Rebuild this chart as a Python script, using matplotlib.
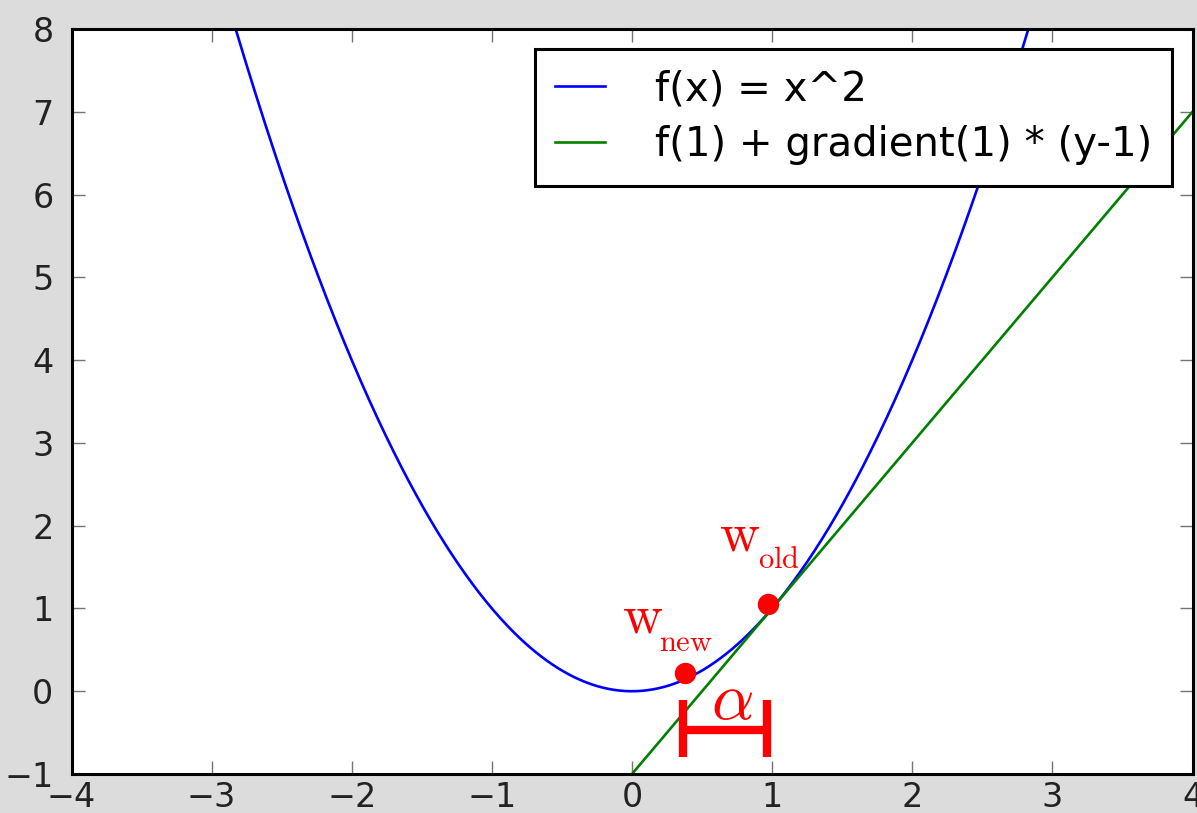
import numpy as np
import matplotlib
matplotlib.use("Agg")
import matplotlib.pyplot as plt

plt.rcParams.update({
    "font.family": "DejaVu Sans",
    "mathtext.fontset": "cm",
})

# curve f(x) = x^2 and its tangent at x = 1
x_lo, x_hi = -4.0, 4.0
x = np.linspace(x_lo, x_hi, 801)
f = x ** 2
tangent_at = 1.0
tangent = tangent_at ** 2 + 2 * tangent_at * (x - tangent_at)

# gradient step: old and new weights
w_old = (0.97, 1.05)
w_new = (0.38, 0.22)
step_x = [0.364, 0.964]      # extent of the alpha bracket
step_y = [-0.1, -0.8]        # vertical extent of bracket ends
step_mid = -0.47

xticks = [-4, -3, -2, -1, 0, 1, 2, 3, 4]
yticks = [-1, 0, 1, 2, 3, 4, 5, 6, 7, 8]

W, H = 1197, 813
fig = plt.figure(figsize=(W / 100, H / 100), dpi=100, facecolor="#dcdcdc")
ax = fig.add_axes([71.5 / W, (H - 774) / H, (1192.5 - 71.5) / W, (774 - 29) / H])

ax.plot(x, f, color="b", lw=1.9, label="f(x) = x^2")
ax.plot(x, tangent, color="g", lw=1.9, label="f(1) + gradient(1) * (y-1)")

ax.plot(*w_old, "o", color="r", ms=14.4, mec="r", zorder=5)
ax.plot(*w_new, "o", color="r", ms=14.4, mec="r", zorder=5)

# alpha bracket
ax.plot(step_x, [step_mid, step_mid], color="r", lw=6, solid_capstyle="butt")
for sx in step_x:
    ax.plot([sx, sx], step_y, color="r", lw=6, solid_capstyle="butt")


def weight_label(xw, yw, sub, xs, ys):
    ax.text(xw, yw, r"$\mathrm{w}$", color="r", fontsize=40,
            ha="left", va="baseline")
    ax.text(xs, ys, r"$\mathrm{%s}$" % sub, color="r", fontsize=22,
            ha="left", va="baseline")


weight_label(0.62, 1.70, "old", 0.90, 1.49)
weight_label(-0.07, 0.71, "new", 0.19, 0.49)
ax.text(0.714, -0.33, r"$\alpha$", color="r", fontsize=48,
        ha="center", va="baseline")

ax.set_xlim(x_lo, x_hi)
ax.set_ylim(-1, 8)
ax.set_xticks(xticks)
ax.set_yticks(yticks)
ax.tick_params(direction="in", length=9.4, width=1.0, color="0.45",
               labelsize=24, labelcolor="#222222", top=True, right=True)
ax.tick_params(axis="x", pad=5)
ax.tick_params(axis="y", pad=13)
for s in ax.spines.values():
    s.set_linewidth(2.2)

leg = ax.legend(loc="upper right", fontsize=29, frameon=True, fancybox=False,
                framealpha=1.0, handlelength=1.22, handletextpad=1.25,
                borderpad=0.5, labelspacing=0.4, borderaxespad=0.5)
leg.get_frame().set_edgecolor("black")
leg.get_frame().set_linewidth(2.2)

fig.savefig("out.png", dpi=100, facecolor=fig.get_facecolor())
